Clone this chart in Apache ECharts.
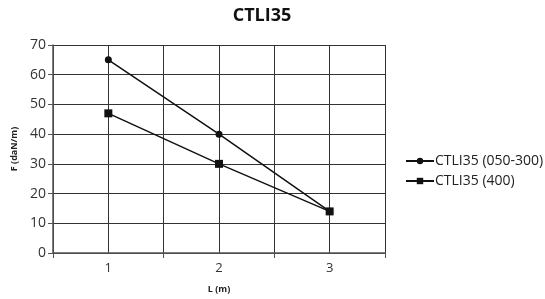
<!DOCTYPE html>
<html>
<head>
    <meta charset="utf-8">
    <title>CTLI35</title>
    <script src="https://cdn.jsdelivr.net/npm/echarts@6/dist/echarts.min.js"></script>
    <style>
        html, body { margin: 0; padding: 0; background: #fff; }
        #chart1 { width: 545px; height: 299px; }
    </style>
</head>
<body>
<div id="chart1"></div>
<script type="text/javascript">
    // data
    var lengths = [1, 2, 3];
    var force050 = [65, 40, 14];
    var force400 = [47, 30, 14];
    var seriesNames = ['CTLI35 (050-300)', 'CTLI35 (400)'];

    function pairs(ys) {
        return lengths.map(function (x, i) { return [x, ys[i]]; });
    }

    var font = '"Open Sans", "Noto Sans", sans-serif';
    var myChart1 = echarts.init(document.getElementById('chart1'));

    myChart1.setOption({
        animation: false,
        backgroundColor: '#fff',
        title: {
            text: 'CTLI35',
            left: 262,
            textAlign: 'center',
            top: 7,
            padding: 0,
            textStyle: { fontFamily: font, fontSize: 18, fontWeight: 'bold', color: '#111' }
        },
        legend: {
            left: 405,
            top: 154,
            padding: 0,
            orient: 'vertical',
            itemWidth: 28,
            itemHeight: 8,
            itemGap: 6,
            data: seriesNames,
            textStyle: { fontFamily: font, fontSize: 14, color: '#222', padding: [0, 0, 0, -4] }
        },
        grid: { left: 53, right: 160, top: 45, bottom: 39 },
        xAxis: [{
            type: 'value',
            min: 0.5,
            max: 3.5,
            interval: 0.5,
            name: 'L (m)',
            nameLocation: 'middle',
            nameGap: 32,
            nameTextStyle: { fontFamily: font, fontSize: 9, fontWeight: 'bold', color: '#222' },
            axisLine: { show: true, lineStyle: { color: '#555', width: 1.5 } },
            axisTick: { show: false },
            axisLabel: {
                margin: 9,
                fontFamily: font, fontSize: 13, color: '#333',
                showMinLabel: true, showMaxLabel: true,
                formatter: function (v) { return Number.isInteger(v) ? String(v) : ''; }
            },
            splitLine: { show: true, lineStyle: { color: '#333', width: 1 } }
        }, {
            // only for the ticks between the categories
            type: 'category',
            position: 'bottom',
            data: ['', '', ''],
            boundaryGap: true,
            axisLine: { show: false },
            axisLabel: { show: false },
            axisTick: { show: true, length: 5, lineStyle: { color: '#555' } },
            splitLine: { show: false }
        }],
        yAxis: {
            type: 'value',
            min: 0,
            max: 70,
            interval: 10,
            name: 'F (daN/m)',
            nameLocation: 'middle',
            nameGap: 32,
            nameTextStyle: { fontFamily: font, fontSize: 9, fontWeight: 'bold', color: '#222' },
            axisLine: { show: true, lineStyle: { color: '#555', width: 1.5 } },
            axisTick: { show: true, length: 5, lineStyle: { color: '#555' } },
            axisLabel: { margin: 7, fontFamily: font, fontSize: 14, color: '#333' },
            splitLine: { show: true, lineStyle: { color: '#333', width: 1 } }
        },
        series: [{
            name: seriesNames[0],
            type: 'line',
            data: pairs(force050),
            symbol: 'circle',
            symbolSize: 7,
            lineStyle: { color: '#111', width: 1.5 },
            itemStyle: { color: '#111' }
        }, {
            name: seriesNames[1],
            type: 'line',
            data: pairs(force400),
            symbol: 'rect',
            symbolSize: 8,
            lineStyle: { color: '#111', width: 1.5 },
            itemStyle: { color: '#111' }
        }]
    });
</script>
</body>
</html>
